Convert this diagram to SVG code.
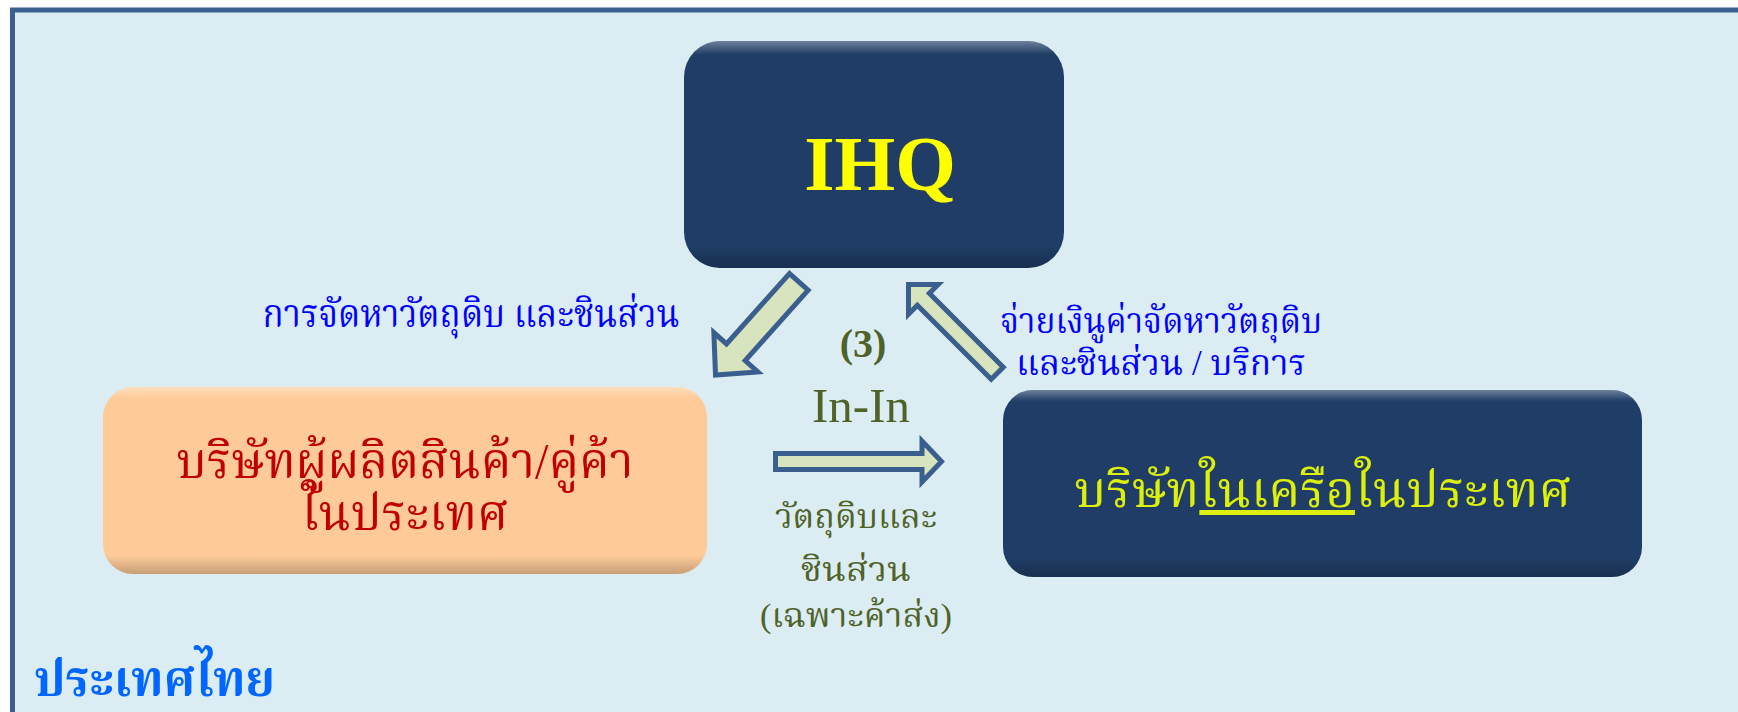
<svg xmlns="http://www.w3.org/2000/svg" width="1738" height="712" viewBox="0 0 1738 712">
  <defs>
    <linearGradient id="bevel" x1="0" y1="0" x2="0" y2="1">
      <stop offset="0" stop-color="#ffffff" stop-opacity="0.35"/>
      <stop offset="0.06" stop-color="#ffffff" stop-opacity="0"/>
      <stop offset="0.9" stop-color="#000000" stop-opacity="0"/>
      <stop offset="1" stop-color="#000000" stop-opacity="0.22"/>
    </linearGradient>
    <style>
      .navy { fill: #1f3d66; }
      .peach { fill: #fecb98; }
      .arrow { fill: #d7e4bd; stroke: #3a5f8e; stroke-width: 5; stroke-linejoin: miter; }
      .th { font-family: "Liberation Serif", "Noto Serif Thai", "Noto Sans Thai", serif; }
      .blue { fill: #0000ff; font-size: 40px; }
      .blue2 { fill: #0000ff; font-size: 36px; }
      .green { fill: #4f6228; font-size: 34px; }
    </style>
  </defs>

  <!-- frame -->
  <rect x="0" y="0" width="1738" height="712" fill="#ffffff"/>
  <rect x="12.5" y="10" width="1800" height="800" fill="#dbedf3" stroke="#3b5f8c" stroke-width="5"/>

  <!-- nodes -->
  <g id="ihq">
    <rect x="684" y="41" width="380" height="227" rx="36" class="navy"/>
    <rect x="684" y="41" width="380" height="227" rx="36" fill="url(#bevel)"/>
    <text x="880" y="190" text-anchor="middle" font-family="Liberation Serif, serif" font-weight="bold" font-size="78" fill="#ffff00">IHQ</text>
  </g>

  <g id="supplier">
    <rect x="103" y="387" width="604" height="187" rx="30" class="peach"/>
    <rect x="103" y="387" width="604" height="187" rx="30" fill="url(#bevel)"/>
    <text class="th" x="405" y="478" text-anchor="middle" font-size="50" fill="#c00000" textLength="457" lengthAdjust="spacingAndGlyphs">บริษัทผู้ผลิตสินค้า/คู่ค้า</text>
    <text class="th" x="405" y="530" text-anchor="middle" font-size="50" fill="#c00000" textLength="207" lengthAdjust="spacingAndGlyphs">ในประเทศ</text>
  </g>

  <g id="affiliate">
    <rect x="1003" y="390" width="639" height="187" rx="30" class="navy"/>
    <rect x="1003" y="390" width="639" height="187" rx="30" fill="url(#bevel)"/>
    <text class="th" x="1323" y="507" text-anchor="middle" font-size="50" fill="#dcf00c" textLength="497" lengthAdjust="spacingAndGlyphs">บริษัท<tspan text-decoration="underline">ในเครือ</tspan>ในประเทศ</text>
  </g>

  <!-- connectors -->
  <g id="connectors">
    <path class="arrow" transform="translate(800.5,280) rotate(131.8)" d="M2.5,-12.5 H97 V-29.5 L127.5,0 L97,29.5 V12.5 H2.5 Z"/>
    <path class="arrow" transform="translate(999,375) rotate(-135)" d="M2.5,-8.5 H107 V-21 L128,0 L107,21 V8.5 H2.5 Z"/>
    <path class="arrow" d="M775.5,453.5 H922 V441 L941.5,461.5 L922,482 V469.5 H775.5 Z"/>
  </g>

  <!-- labels -->
  <g id="labels">
    <text class="th blue" x="471" y="327" text-anchor="middle" textLength="417" lengthAdjust="spacingAndGlyphs">การจัดหาวัตถุดิบ และชินส่วน</text>
    <text class="th blue2" x="1161" y="333" text-anchor="middle" textLength="322" lengthAdjust="spacingAndGlyphs">จ่ายเงินูค่าจัดหาวัตถุดิบ</text>
    <text class="th blue2" x="1161" y="375" text-anchor="middle" textLength="290" lengthAdjust="spacingAndGlyphs">และชินส่วน / บริการ</text>
    <text x="863" y="357" text-anchor="middle" font-family="Liberation Serif, serif" font-weight="bold" font-size="40" fill="#4f6228">(3)</text>
    <text x="861" y="422" text-anchor="middle" font-family="Liberation Serif, serif" font-size="49" fill="#4f6228">In-In</text>
    <text class="th green" x="856" y="528" text-anchor="middle" textLength="162" lengthAdjust="spacingAndGlyphs">วัตถุดิบและ</text>
    <text class="th green" x="856" y="581" text-anchor="middle" textLength="110" lengthAdjust="spacingAndGlyphs">ชินส่วน</text>
    <text class="th green" x="856" y="627" text-anchor="middle" textLength="192" lengthAdjust="spacingAndGlyphs">(เฉพาะค้าส่ง)</text>
    <text class="th" x="34" y="696" font-size="50" font-weight="bold" fill="#0066ff" textLength="241" lengthAdjust="spacingAndGlyphs">ประเทศไทย</text>
  </g>
</svg>
